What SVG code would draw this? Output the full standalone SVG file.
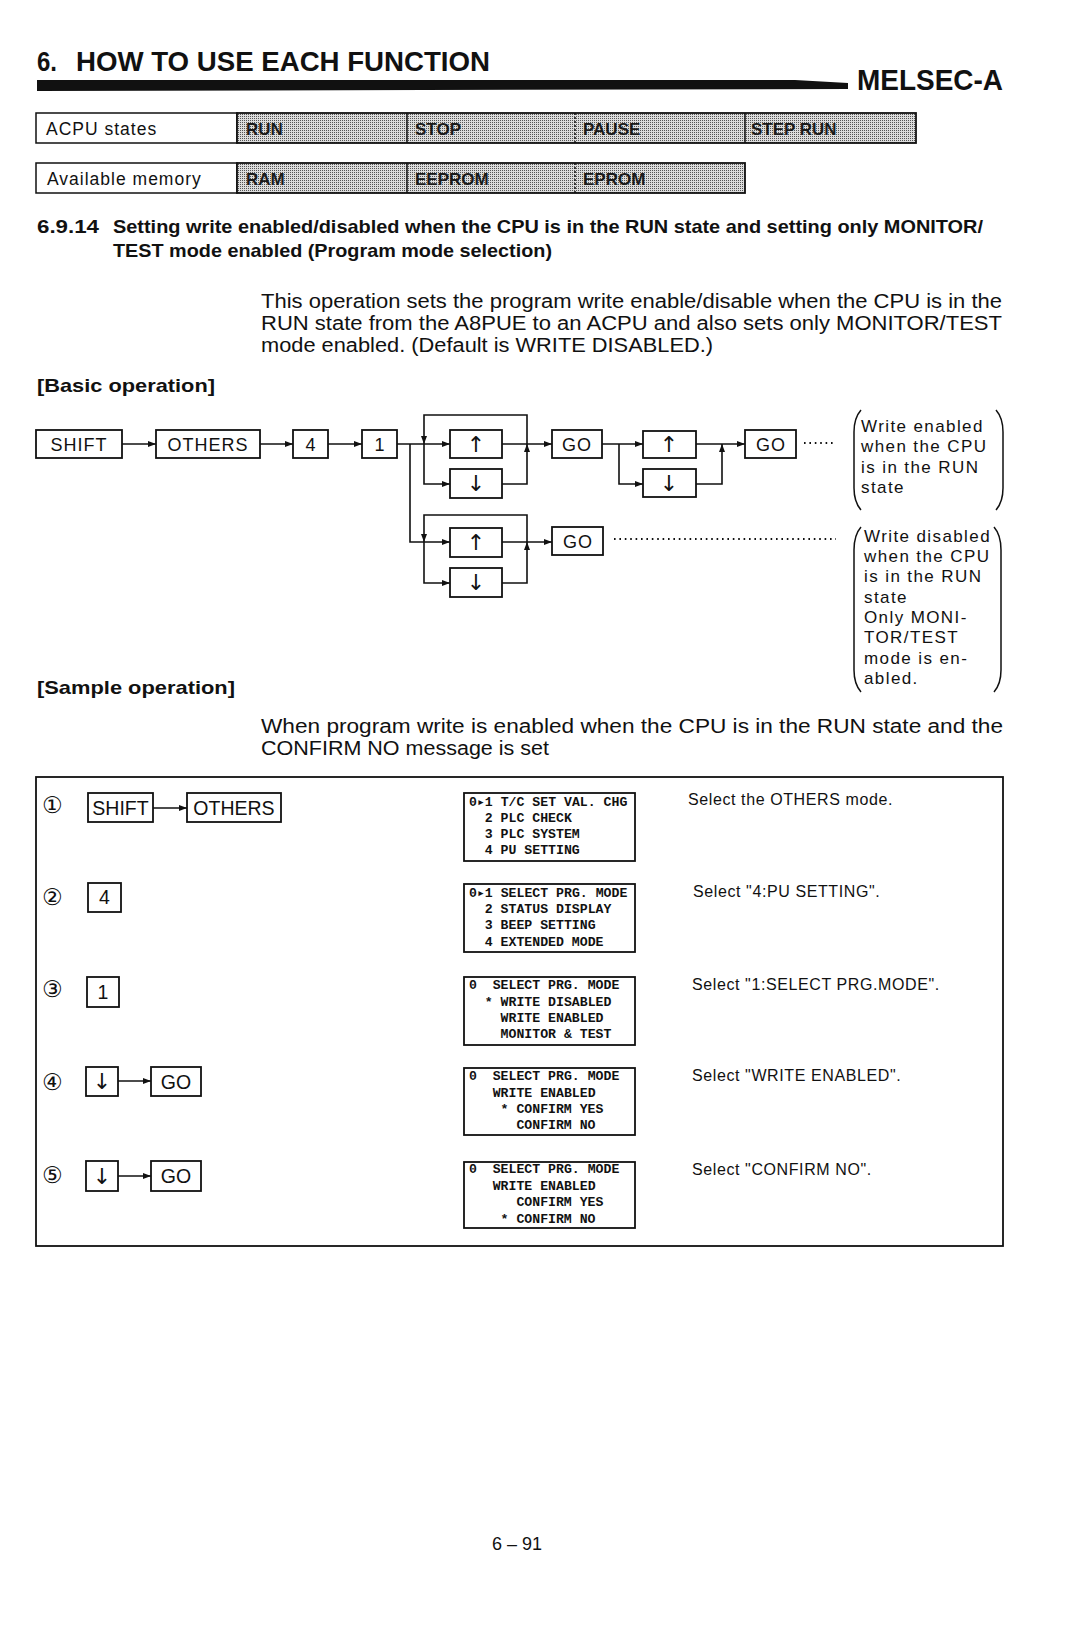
<svg xmlns="http://www.w3.org/2000/svg" width="1086" height="1625" viewBox="0 0 1086 1625">
<defs>
<style>
.t{font-family:"Liberation Sans",Arial,Helvetica,sans-serif;fill:#111}
.b{font-weight:bold}
.key{font-family:"Liberation Sans",Arial,sans-serif;font-size:18px;letter-spacing:1px;fill:#111;text-anchor:middle}
.skey{font-family:"Liberation Sans",Arial,sans-serif;font-size:19.5px;fill:#111;text-anchor:middle}
.arr{font-family:"DejaVu Sans",sans-serif;font-size:22px;fill:#111;text-anchor:middle}
.box{fill:#fff;stroke:#111;stroke-width:1.8}
.lcd{fill:#fff;stroke:#111;stroke-width:1.8}
.mono{font-family:"Liberation Mono","Courier New","DejaVu Sans Mono",monospace;font-size:13.2px;font-weight:bold;fill:#111}
.note{font-family:"Liberation Sans",Arial,sans-serif;font-size:17px;letter-spacing:1.4px;fill:#111}
.desc{font-family:"Liberation Sans",Arial,sans-serif;font-size:16px;letter-spacing:0.6px;fill:#111}
.circ{font-family:"DejaVu Sans","Noto Sans CJK JP",sans-serif;font-size:23px;fill:#111}
.cell{font-family:"Liberation Sans",Arial,sans-serif;font-size:17px;font-weight:bold;fill:#1a1a1a}
.lbl{font-family:"Liberation Sans",Arial,sans-serif;font-size:17.5px;letter-spacing:1px;fill:#111}
.ln{fill:none;stroke:#111;stroke-width:1.6}
.dot{fill:none;stroke:#111;stroke-width:1.8;stroke-dasharray:1.6 3.8}
.par{fill:none;stroke:#111;stroke-width:1.5}
</style>
<marker id="ah" viewBox="0 0 8 6" refX="8" refY="3" markerWidth="8" markerHeight="6" markerUnits="userSpaceOnUse" orient="auto">
<path d="M0,0 L8,3 L0,6 z" fill="#111"/>
</marker>
<pattern id="dots" width="2" height="2" patternUnits="userSpaceOnUse">
<rect width="2" height="2" fill="#dcdcdc"/>
<rect width="1" height="1" fill="#555"/>
</pattern>
</defs>
<rect width="1086" height="1625" fill="#fff"/>

<g id="header">
<text class="t b" x="37" y="71" font-size="28" textLength="20" lengthAdjust="spacingAndGlyphs">6.</text>
<text class="t b" x="76" y="71" font-size="28" textLength="414" lengthAdjust="spacingAndGlyphs">HOW TO USE EACH FUNCTION</text>
<polygon points="37,80 795,80 848,83 848,89 37,91" fill="#111"/>
<text class="t b" x="857" y="90" font-size="30" textLength="146" lengthAdjust="spacingAndGlyphs">MELSEC-A</text>
</g>

<g id="state-table">
<rect x="36" y="113" width="201" height="30" fill="#fff" stroke="#111" stroke-width="1.5"/>
<rect x="237" y="113" width="679" height="30" fill="url(#dots)" stroke="#111" stroke-width="1.8"/>
<line x1="407" y1="113" x2="407" y2="143" stroke="#111" stroke-width="1.5"/>
<line x1="575" y1="113" x2="575" y2="143" stroke="#111" stroke-width="1.5" stroke-dasharray="2 2"/>
<line x1="745" y1="113" x2="745" y2="143" stroke="#111" stroke-width="1.5"/>
<text class="lbl" x="46" y="135">ACPU states</text>
<text class="cell" x="246" y="135">RUN</text>
<text class="cell" x="415" y="135">STOP</text>
<text class="cell" x="583" y="135">PAUSE</text>
<text class="cell" x="751" y="135">STEP RUN</text>
<rect x="36" y="163" width="201" height="30" fill="#fff" stroke="#111" stroke-width="1.5"/>
<rect x="237" y="163" width="508" height="30" fill="url(#dots)" stroke="#111" stroke-width="1.8"/>
<line x1="407" y1="163" x2="407" y2="193" stroke="#111" stroke-width="1.5"/>
<line x1="575" y1="163" x2="575" y2="193" stroke="#111" stroke-width="1.5" stroke-dasharray="2 2"/>
<text class="lbl" x="47" y="185">Available memory</text>
<text class="cell" x="246" y="185">RAM</text>
<text class="cell" x="415" y="185">EEPROM</text>
<text class="cell" x="583" y="185">EPROM</text>
</g>

<g id="section-text">
<text class="t b" x="37" y="233" font-size="19" textLength="62" lengthAdjust="spacingAndGlyphs">6.9.14</text>
<text class="t b" x="113" y="233" font-size="19" textLength="870" lengthAdjust="spacingAndGlyphs">Setting write enabled/disabled when the CPU is in the RUN state and setting only MONITOR/</text>
<text class="t b" x="113" y="257" font-size="19" textLength="439" lengthAdjust="spacingAndGlyphs">TEST mode enabled (Program mode selection)</text>
<text class="t" x="261" y="308" font-size="19.5" textLength="741" lengthAdjust="spacingAndGlyphs">This operation sets the program write enable/disable when the CPU is in the</text>
<text class="t" x="261" y="330" font-size="19.5" textLength="741" lengthAdjust="spacingAndGlyphs">RUN state from the A8PUE to an ACPU and also sets only MONITOR/TEST</text>
<text class="t" x="261" y="352" font-size="19.5" textLength="452" lengthAdjust="spacingAndGlyphs">mode enabled. (Default is WRITE DISABLED.)</text>
<text class="t b" x="37" y="392" font-size="19" textLength="178" lengthAdjust="spacingAndGlyphs">[Basic operation]</text>
<text class="t b" x="37" y="694" font-size="19" textLength="198" lengthAdjust="spacingAndGlyphs">[Sample operation]</text>
<text class="t" x="261" y="733" font-size="19.5" textLength="742" lengthAdjust="spacingAndGlyphs">When program write is enabled when the CPU is in the RUN state and the</text>
<text class="t" x="261" y="755" font-size="19.5" textLength="288" lengthAdjust="spacingAndGlyphs">CONFIRM NO message is set</text>
</g>

<g id="connectors">
<path class="ln" d="M122,444 H156" marker-end="url(#ah)"/>
<path class="ln" d="M260,444 H293" marker-end="url(#ah)"/>
<path class="ln" d="M328,444 H362" marker-end="url(#ah)"/>
<path class="ln" d="M397,444 H450" marker-end="url(#ah)"/>
<path class="ln" d="M527,444 V415 H424 V444" marker-end="url(#ah)"/>
<path class="ln" d="M424,444 V484 H450" marker-end="url(#ah)"/>
<path class="ln" d="M502,444 H552" marker-end="url(#ah)"/>
<path class="ln" d="M502,484 H527 V444" marker-end="url(#ah)"/>
<path class="ln" d="M602,444 H643" marker-end="url(#ah)"/>
<path class="ln" d="M619,444 V484 H643" marker-end="url(#ah)"/>
<path class="ln" d="M696,484 H722 V444" marker-end="url(#ah)"/>
<path class="ln" d="M696,444 H745" marker-end="url(#ah)"/>
<path class="ln" d="M410,444 V542 H450" marker-end="url(#ah)"/>
<path class="ln" d="M527,542 V515 H424 V542" marker-end="url(#ah)"/>
<path class="ln" d="M424,542 V583 H450" marker-end="url(#ah)"/>
<path class="ln" d="M502,542 H552" marker-end="url(#ah)"/>
<path class="ln" d="M502,583 H527 V542" marker-end="url(#ah)"/>
<path class="dot" d="M804,443 H836"/>
<path class="dot" d="M614,539 H836"/>
<path class="ln" d="M153,808 H187" marker-end="url(#ah)"/>
<path class="ln" d="M118,1081 H151" marker-end="url(#ah)"/>
<path class="ln" d="M118,1176 H151" marker-end="url(#ah)"/>
</g>

<g id="key-shift"><rect class="box" x="36" y="430" width="86" height="28"/><text class="key" x="79" y="451">SHIFT</text></g>
<g id="key-others"><rect class="box" x="156" y="430" width="104" height="28"/><text class="key" x="208" y="451">OTHERS</text></g>
<g id="key-4"><rect class="box" x="293" y="430" width="35" height="28"/><text class="key" x="311" y="451">4</text></g>
<g id="key-1"><rect class="box" x="362" y="430" width="35" height="28"/><text class="key" x="380" y="451">1</text></g>
<g id="key-up-a"><rect class="box" x="450" y="430" width="52" height="28"/><text class="arr" x="476" y="452">↑</text></g>
<g id="key-down-a"><rect class="box" x="450" y="469" width="52" height="29"/><text class="arr" x="476" y="491">↓</text></g>
<g id="key-go-a"><rect class="box" x="552" y="430" width="50" height="28"/><text class="key" x="577" y="451">GO</text></g>
<g id="key-up-b"><rect class="box" x="643" y="431" width="53" height="27"/><text class="arr" x="669" y="452">↑</text></g>
<g id="key-down-b"><rect class="box" x="643" y="469" width="53" height="28"/><text class="arr" x="669" y="491">↓</text></g>
<g id="key-go-b"><rect class="box" x="745" y="430" width="51" height="28"/><text class="key" x="771" y="451">GO</text></g>
<g id="key-up-c"><rect class="box" x="450" y="528" width="52" height="29"/><text class="arr" x="476" y="550">↑</text></g>
<g id="key-down-c"><rect class="box" x="450" y="568" width="52" height="29"/><text class="arr" x="476" y="590">↓</text></g>
<g id="key-go-c"><rect class="box" x="552" y="527" width="51" height="28"/><text class="key" x="578" y="548">GO</text></g>

<g id="note-enabled">
<path class="par" d="M861,410 Q854,418 854,432 V488 Q854,502 861,510"/>
<path class="par" d="M996,410 Q1003,418 1003,432 V488 Q1003,502 996,510"/>
<text class="note" x="861" y="432">Write enabled</text>
<text class="note" x="861" y="452">when the CPU</text>
<text class="note" x="861" y="473">is in the RUN</text>
<text class="note" x="861" y="493">state</text>
</g>
<g id="note-disabled">
<path class="par" d="M861,527 Q854,535 854,550 V670 Q854,684 861,692"/>
<path class="par" d="M994,527 Q1001,535 1001,550 V670 Q1001,684 994,692"/>
<text class="note" x="864" y="542">Write disabled</text>
<text class="note" x="864" y="562">when the CPU</text>
<text class="note" x="864" y="582">is in the RUN</text>
<text class="note" x="864" y="603">state</text>
<text class="note" x="864" y="623">Only MONI-</text>
<text class="note" x="864" y="643">TOR/TEST</text>
<text class="note" x="864" y="664">mode is en-</text>
<text class="note" x="864" y="684">abled.</text>
</g>

<g id="sample-table">
<rect x="36" y="777" width="967" height="469" fill="none" stroke="#111" stroke-width="1.8"/>
</g>

<g id="step-1">
<text class="circ" x="42" y="813">①</text>
<rect class="box" x="88" y="793" width="65" height="29"/><text class="skey" x="120.5" y="815">SHIFT</text>
<rect class="box" x="187" y="793" width="94" height="29"/><text class="skey" x="234" y="815">OTHERS</text>
<rect class="lcd" x="464" y="793" width="171" height="68"/>
<text class="mono" x="469" y="806">0▸1 T/C SET VAL. CHG</text>
<text class="mono" x="484.8" y="822">2 PLC CHECK</text>
<text class="mono" x="484.8" y="838">3 PLC SYSTEM</text>
<text class="mono" x="484.8" y="854">4 PU SETTING</text>
<text class="desc" x="688" y="805">Select the OTHERS mode.</text>
</g>
<g id="step-2">
<text class="circ" x="42" y="905">②</text>
<rect class="box" x="88" y="883" width="33" height="29"/><text class="skey" x="104.5" y="904" font-size="18">4</text>
<rect class="lcd" x="464" y="884" width="171" height="68"/>
<text class="mono" x="469" y="897">0▸1 SELECT PRG. MODE</text>
<text class="mono" x="484.8" y="913">2 STATUS DISPLAY</text>
<text class="mono" x="484.8" y="929">3 BEEP SETTING</text>
<text class="mono" x="484.8" y="946">4 EXTENDED MODE</text>
<text class="desc" x="693" y="897">Select "4:PU SETTING".</text>
</g>
<g id="step-3">
<text class="circ" x="42" y="997">③</text>
<rect class="box" x="87" y="977" width="32" height="30"/><text class="skey" x="103" y="999" font-size="18">1</text>
<rect class="lcd" x="464" y="977" width="171" height="68"/>
<text class="mono" x="469" y="989">0</text><text class="mono" x="492.7" y="989">SELECT PRG. MODE</text>
<text class="mono" x="484.8" y="1006">*</text><text class="mono" x="500.6" y="1006">WRITE DISABLED</text>
<text class="mono" x="500.6" y="1022">WRITE ENABLED</text>
<text class="mono" x="500.6" y="1038">MONITOR &amp; TEST</text>
<text class="desc" x="692" y="990">Select "1:SELECT PRG.MODE".</text>
</g>
<g id="step-4">
<text class="circ" x="42" y="1090">④</text>
<rect class="box" x="86" y="1067" width="32" height="29"/><text class="arr" x="102" y="1089">↓</text>
<rect class="box" x="151" y="1067" width="50" height="29"/><text class="skey" x="176" y="1089">GO</text>
<rect class="lcd" x="464" y="1068" width="171" height="67"/>
<text class="mono" x="469" y="1080">0</text><text class="mono" x="492.7" y="1080">SELECT PRG. MODE</text>
<text class="mono" x="492.7" y="1097">WRITE ENABLED</text>
<text class="mono" x="500.6" y="1113">*</text><text class="mono" x="516.4" y="1113">CONFIRM YES</text>
<text class="mono" x="516.4" y="1129">CONFIRM NO</text>
<text class="desc" x="692" y="1081">Select "WRITE ENABLED".</text>
</g>
<g id="step-5">
<text class="circ" x="42" y="1183">⑤</text>
<rect class="box" x="86" y="1161" width="32" height="30"/><text class="arr" x="102" y="1184">↓</text>
<rect class="box" x="151" y="1161" width="50" height="30"/><text class="skey" x="176" y="1183">GO</text>
<rect class="lcd" x="464" y="1162" width="171" height="66"/>
<text class="mono" x="469" y="1173">0</text><text class="mono" x="492.7" y="1173">SELECT PRG. MODE</text>
<text class="mono" x="492.7" y="1190">WRITE ENABLED</text>
<text class="mono" x="516.4" y="1206">CONFIRM YES</text>
<text class="mono" x="500.6" y="1223">*</text><text class="mono" x="516.4" y="1223">CONFIRM NO</text>
<text class="desc" x="692" y="1175">Select "CONFIRM NO".</text>
</g>

<g id="footer">
<text class="t" x="492" y="1550" font-size="18">6 – 91</text>
</g>
</svg>
